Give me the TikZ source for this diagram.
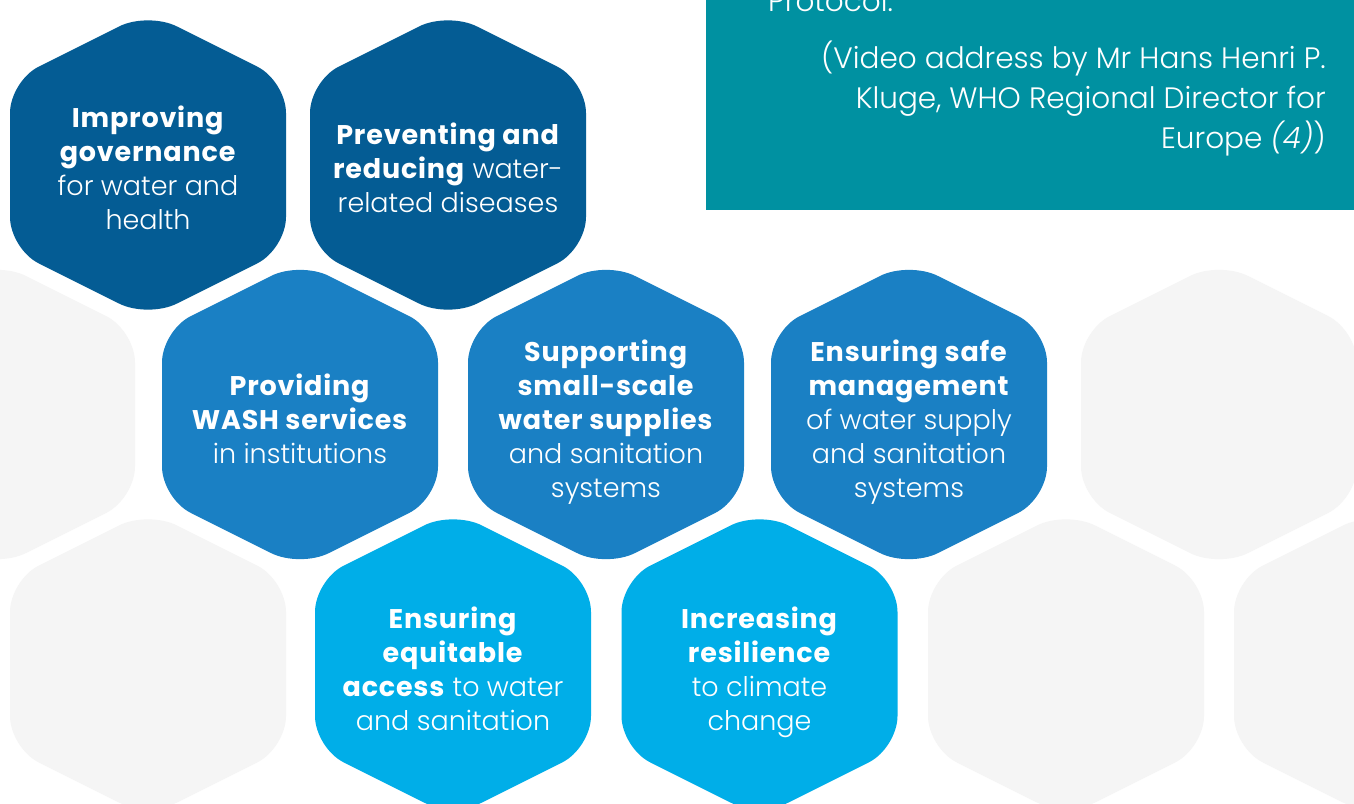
\documentclass[tikz,border=0pt]{standalone}
\usepackage{fontspec}
\setmainfont{Poppins}[UprightFont=* Light, BoldFont=* Bold, ItalicFont=* Light Italic, BoldFeatures={LetterSpace=3}]
\definecolor{dblue}{HTML}{045C94}
\definecolor{mblue}{HTML}{1A80C4}
\definecolor{lblue}{HTML}{00AEE8}
\definecolor{hgray}{HTML}{F5F5F5}
\definecolor{tealbox}{HTML}{0091A1}
\newcommand\hexshape[3]{\fill[#3,rounded corners=32pt] (#1+138,#2) -- (#1+138,#2-84) -- (#1,#2-153) -- (#1-138,#2-84) -- (#1-138,#2+84) -- (#1,#2+153) -- (#1+138,#2+84) -- cycle;}
\begin{document}
\begin{tikzpicture}[x=1pt,y=-1pt,
  hextext/.style={text=white, align=center, font=\fontsize{27}{34}\selectfont, inner sep=0pt},
  quotetext/.style={text=white, font=\fontsize{29.5}{40}\selectfont, inner sep=0pt}]
\useasboundingbox (0,0) rectangle (1354,803);
\clip (0,0) rectangle (1354,803);
\fill[white] (0,0) rectangle (1354,803);
% teal quote box
\fill[tealbox] (706,-10) rectangle (1360,210);
\node[quotetext, anchor=base west] (proto) at (768,12) {Protocol.};
\node[quotetext, align=right, anchor=north east] (quote) at (1326,41) {(Video address by Mr Hans Henri P.\\Kluge, WHO Regional Director for\\Europe \textit{(4)})};
% background hexagons
\hexshape{-3}{414.5}{hgray}
\hexshape{1219}{414.5}{hgray}
\hexshape{148}{664}{hgray}
\hexshape{1066}{664}{hgray}
\hexshape{1372}{664}{hgray}
% coloured hexagons
\hexshape{148}{165}{dblue}
\hexshape{448}{165}{dblue}
\hexshape{300}{414.5}{mblue}
\hexshape{606}{414.5}{mblue}
\hexshape{909}{414.5}{mblue}
\hexshape{453}{664}{lblue}
\hexshape{759.5}{664}{lblue}
% texts
\node[hextext] (h1) at (148,168) {\textbf{Improving}\\\textbf{governance}\\for water and\\health};
\node[hextext] (h2) at (448,168) {\textbf{Preventing and}\\\textbf{reducing} water-\\related diseases};
\node[hextext] (h3) at (300,419) {\textbf{Providing}\\\textbf{WASH services}\\in institutions};
\node[hextext] (h4) at (606,422) {\textbf{Supporting}\\\textbf{small-scale}\\\textbf{water supplies}\\and sanitation\\systems};
\node[hextext] (h5) at (909,422) {\textbf{Ensuring safe}\\\textbf{management}\\of water supply\\and sanitation\\systems};
\node[hextext] (h6) at (453,669) {\textbf{Ensuring}\\\textbf{equitable}\\\textbf{access} to water\\and sanitation};
\node[hextext] (h7) at (759.5,672) {\textbf{Increasing}\\\textbf{resilience}\\to climate\\change};
\end{tikzpicture}
\end{document}
